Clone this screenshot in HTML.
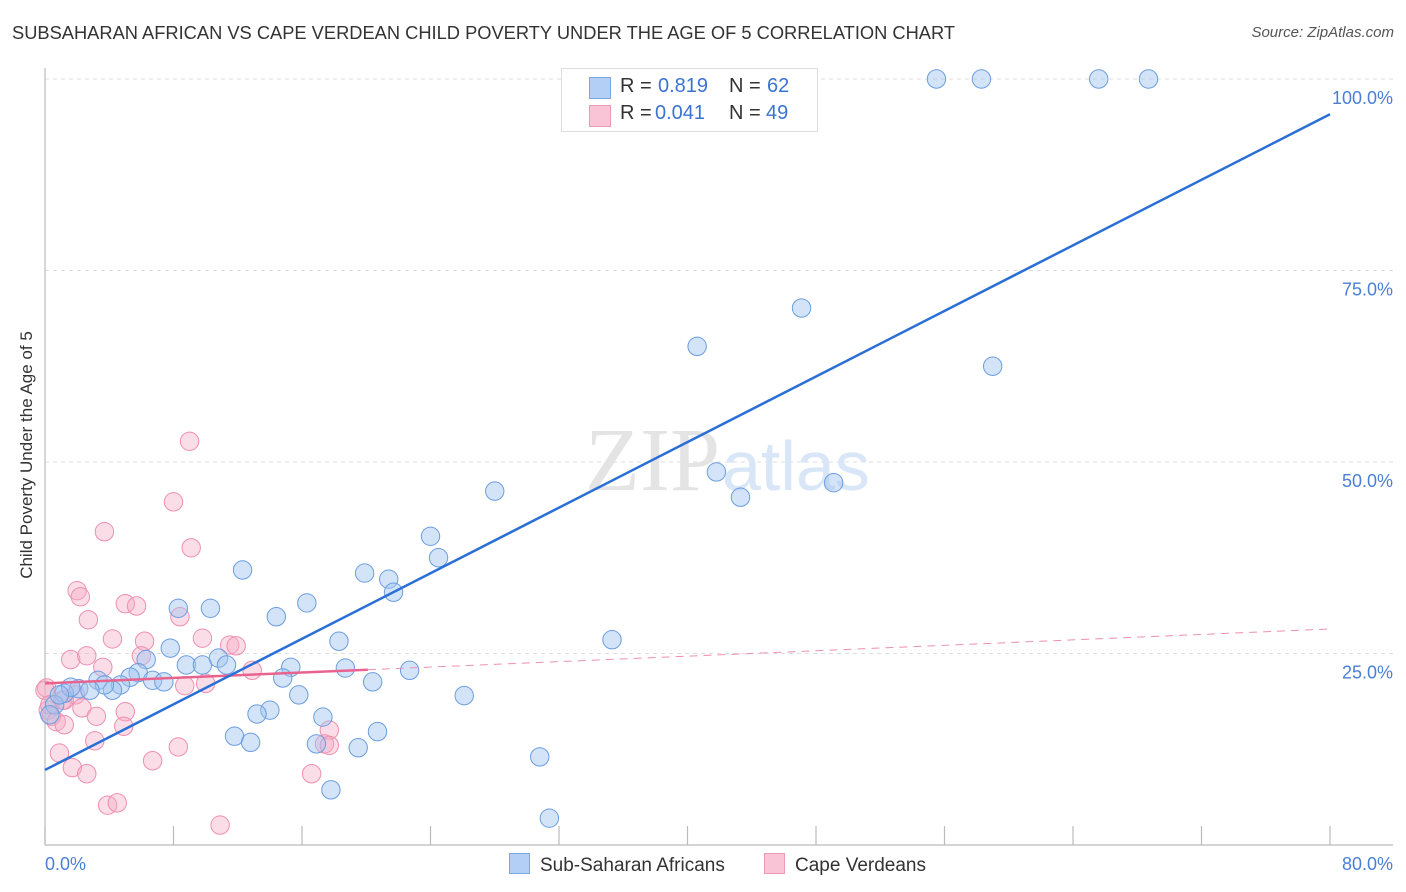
<!DOCTYPE html>
<html><head><meta charset="utf-8">
<style>
body{margin:0;background:#fff;font-family:"Liberation Sans",sans-serif;}
#wrap{position:relative;width:1406px;height:892px;overflow:hidden;}
.t{position:absolute;white-space:nowrap;}
</style></head>
<body>
<div id="wrap">
<div class="t" style="left:12px;top:22px;font-size:18.3px;color:#333;">SUBSAHARAN AFRICAN VS CAPE VERDEAN CHILD POVERTY UNDER THE AGE OF 5 CORRELATION CHART</div>
<div class="t" style="right:12px;top:24px;font-size:15px;color:#555;font-style:italic;">Source: ZipAtlas.com</div>
<div class="t" style="left:27px;top:455px;font-size:17px;color:#333;transform:translate(-50%,-50%) rotate(-90deg);">Child Poverty Under the Age of 5</div>
<svg id="chart" width="1406" height="892" style="position:absolute;left:0;top:0"></svg>
<div style="position:absolute;left:561px;top:68px;width:255px;height:62px;border:1px solid #ddd;background:#fff;font-size:20px;">
  <div style="position:absolute;left:27px;top:8px;width:20px;height:20px;background:#b4cff5;border:1px solid #7ba6e3;"></div>
  <div class="t" style="left:58px;top:6px;color:#333;">R =</div>
  <div class="t" style="left:96px;top:6px;color:#3b73d1;">0.819</div>
  <div class="t" style="left:167px;top:6px;color:#333;">N =</div>
  <div class="t" style="left:205px;top:6px;color:#3b73d1;">62</div>
  <div style="position:absolute;left:27px;top:36px;width:20px;height:20px;background:#f9c5d6;border:1px solid #ee9ab6;"></div>
  <div class="t" style="left:58px;top:33px;color:#333;">R =</div>
  <div class="t" style="left:93px;top:33px;color:#3b73d1;">0.041</div>
  <div class="t" style="left:167px;top:33px;color:#333;">N =</div>
  <div class="t" style="left:204px;top:33px;color:#3b73d1;">49</div>
</div>
<div style="position:absolute;left:509px;top:853px;font-size:19px;color:#333;">
  <span style="display:inline-block;width:19px;height:19px;background:#b4cff5;border:1px solid #7ba6e3;vertical-align:-3px;margin-right:10px;"></span>Sub-Saharan Africans</div>
<div style="position:absolute;left:764px;top:853px;font-size:19px;color:#333;">
  <span style="display:inline-block;width:19px;height:19px;background:#f9c5d6;border:1px solid #ee9ab6;vertical-align:-3px;margin-right:10px;"></span>Cape Verdeans</div>
</div>
<script>
const xTicks=[0,8,16,24,32,40,48,56,64,72,80];
const yTicks=[25,50,75,100];
const yTickLabels=["25.0%","50.0%","75.0%","100.0%"];
const blueX=[55.5,58.3,65.6,68.7,47.1,40.6,59.0,41.8,43.3,49.1,28.0,24.0,24.5,19.9,21.4,21.7,12.3,8.3,10.3,16.3,14.4,35.3,18.3,7.8,6.3,8.8,9.8,10.8,11.3,15.3,18.7,22.7,14.8,20.4,26.1,15.8,5.8,6.7,7.4,5.3,4.7,4.2,3.3,2.1,1.2,0.6,0.3,14.0,13.2,17.3,11.8,12.8,16.9,19.5,20.7,30.8,17.8,31.4,3.7,2.8,1.6,0.9];
const blueY=[100,100,100,100,70.1,65.1,62.5,48.7,45.4,47.3,46.2,40.3,37.5,35.5,34.7,33.0,35.9,30.9,30.9,31.6,29.8,26.8,26.6,25.7,24.2,23.5,23.5,24.4,23.5,23.2,23.1,22.8,21.8,21.3,19.5,19.6,22.5,21.5,21.3,21.9,20.9,20.2,21.5,20.4,19.8,18.3,17.0,17.6,17.1,16.7,14.2,13.4,13.2,12.7,14.8,11.5,7.2,3.5,20.9,20.2,20.6,19.6];
const pinkX=[9.0,8.0,3.7,9.1,2.0,2.2,5.0,5.7,2.7,8.4,4.2,6.2,9.8,11.5,11.9,1.6,2.6,3.6,6.0,12.9,0.1,8.7,10.0,1.1,1.9,0.2,0.4,0.7,1.2,2.3,3.2,5.0,4.9,3.1,8.3,17.7,17.4,0.9,1.7,2.6,6.7,3.9,4.5,16.6,10.9,0.0,0.3,1.2,17.7];
const pinkY=[52.7,44.8,40.9,38.8,33.2,32.4,31.5,31.2,29.4,29.8,26.9,26.6,27.0,26.1,26.0,24.2,24.7,23.2,24.7,22.8,20.5,20.8,21.1,18.9,19.6,17.6,16.8,16.1,15.7,17.9,16.8,17.4,15.5,13.6,12.8,15.0,13.2,12.0,10.1,9.3,11.0,5.2,5.5,9.3,2.6,20.2,18.3,18.9,13.0];
const blueTrend=[9.8,95.4];
const pinkTrend=[21.1,28.2];
const pinkSolidEnd=20.1;

const X=v=>45+v*(1330-45)/80;
const Y=v=>845-v*(845-79)/100;
const svg=document.getElementById('chart');
const NS='http://www.w3.org/2000/svg';
function mk(tag,attrs){const e=document.createElementNS(NS,tag);for(const k in attrs)e.setAttribute(k,attrs[k]);svg.appendChild(e);return e;}

yTicks.forEach((t,i)=>{
  const g=mk('line',{x1:45,x2:1393,y1:Y(t),y2:Y(t),stroke:'#ddd','stroke-dasharray':'4,4','stroke-width':1});
  
  
  const l=mk('text',{x:1393,y:Y(t)+25,'text-anchor':'end','font-size':18,fill:'#4a7fd6','font-family':'Liberation Sans, sans-serif'});
  l.textContent=yTickLabels[i];
  
  
});
const ax=mk('line',{x1:45,x2:45,y1:68,y2:845,stroke:'#bbb','stroke-width':1.2});


const bx=mk('line',{x1:45,x2:1393,y1:845,y2:845,stroke:'#bbb','stroke-width':1.2});


xTicks.forEach(t=>{
  const tk=mk('line',{x1:X(t),x2:X(t),y1:826,y2:845,stroke:'#bbb','stroke-width':1.2});
  
  
});
[[0,'0.0%','start',45],[80,'80.0%','end',1393]].forEach(d=>{
  const l=mk('text',{x:d[3],y:870,'text-anchor':d[2],'font-size':18,fill:'#4a7fd6','font-family':'Liberation Sans, sans-serif'});
  l.textContent=d[1];
  
  
});
const w1=mk('text',{x:720,y:490,'text-anchor':'end','font-size':90,fill:'#e4e4e4','font-family':'Liberation Serif, serif'});
w1.textContent='ZIP';


const w2=mk('text',{x:722,y:490,'font-size':70,fill:'#d8e6f7','font-family':'Liberation Sans, sans-serif'});
w2.textContent='atlas';



pinkX.forEach((v,i)=>{
  const c=mk('circle',{cx:X(v),cy:Y(pinkY[i]),r:9.2,fill:'rgba(246,170,195,0.4)',stroke:'#ee8fb0','stroke-width':1});
  
  
});
blueX.forEach((v,i)=>{
  const c=mk('circle',{cx:X(v),cy:Y(blueY[i]),r:9.2,fill:'rgba(160,196,240,0.45)',stroke:'#6b9de0','stroke-width':1});
  
  
});
const pAt=x=>pinkTrend[0]+(pinkTrend[1]-pinkTrend[0])*x/80;
const pd=mk('line',{x1:X(pinkSolidEnd),y1:Y(pAt(pinkSolidEnd)),x2:X(80),y2:Y(pinkTrend[1]),stroke:'#ee8fb0','stroke-width':1,'stroke-dasharray':'8,6'});


const ps=mk('line',{x1:X(0),y1:Y(pinkTrend[0]),x2:X(pinkSolidEnd),y2:Y(pAt(pinkSolidEnd)),stroke:'#e8648f','stroke-width':2.5});


const bl=mk('line',{x1:X(0),y1:Y(blueTrend[0]),x2:X(80),y2:Y(blueTrend[1]),stroke:'#2a6fd6','stroke-width':2.5});


</script>
</body></html>
